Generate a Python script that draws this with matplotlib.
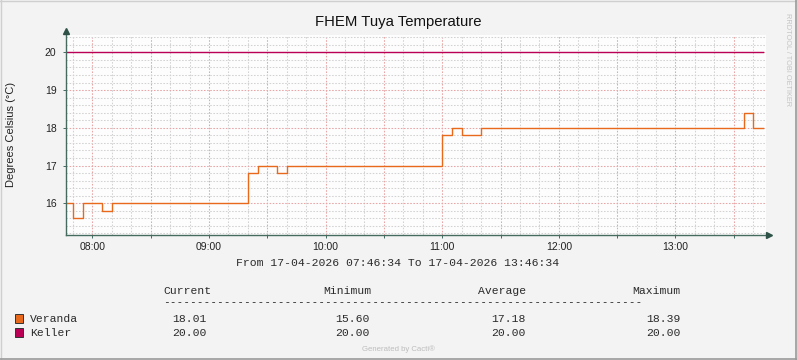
import datetime as dt
import matplotlib
matplotlib.use("Agg")
import matplotlib.pyplot as plt
import matplotlib.dates as mdates
from matplotlib.ticker import FuncFormatter, MultipleLocator
from matplotlib.patches import Rectangle

# ---- data ----
day = "2026-04-17"
start, end = "07:46:34", "13:46:34"

veranda_times = ["07:45", "07:50", "07:55", "08:05", "08:10", "09:20", "09:25", "09:35",
                 "09:40", "11:00", "11:05", "11:10", "11:20", "13:35", "13:40", "13:45"]
veranda_temps = [16.0, 15.6, 16.0, 15.8, 16.0, 16.8, 17.0, 16.8,
                 17.0, 17.8, 18.0, 17.8, 18.0, 18.4, 18.0, 18.0]
keller_times = ["07:45", "13:45"]
keller_temps = [20.0, 20.0]

series_names = ["Veranda", "Keller"]
series_colors = ["#E8691C", "#B90054"]
stat_headers = ["Current", "Minimum", "Average", "Maximum"]
veranda_stats = ["18.01", "15.60", "17.18", "18.39"]
keller_stats = ["20.00", "20.00", "20.00", "20.00"]

W, H = 797, 360
bg = "#F3F3F3"
axis_col = "#456A60"


def t(s):
    return dt.datetime.strptime(day + " " + (s if s.count(":") == 2 else s + ":00"), "%Y-%m-%d %H:%M:%S")


def fx(x):
    return x / W


def fy(y):
    return 1 - y / H


fig = plt.figure(figsize=(W / 100, H / 100), dpi=100, facecolor=bg)
L, R, T, B = 66.2, 766, 35, 235
ax = fig.add_axes([fx(L), fy(B), (R - L) / W, (B - T) / H])
ax.set_facecolor("#FDFDFD")

xs_v = [t(s) for s in veranda_times]
xs_k = [t(s) for s in keller_times]
ax.plot(xs_v, veranda_temps, drawstyle="steps-post", color=series_colors[0], lw=1.0, zorder=5)
ax.plot(xs_k, keller_temps, drawstyle="steps-post", color=series_colors[1], lw=1.0, zorder=5)

ax.set_xlim(t(start), t(end))
ax.set_ylim(15.16, 20.46)

# grid
ax.xaxis.set_major_locator(mdates.MinuteLocator(byminute=[0, 30]))
ax.xaxis.set_minor_locator(mdates.MinuteLocator(byminute=range(0, 60, 10)))
ax.xaxis.set_major_formatter(FuncFormatter(
    lambda v, p: "" if mdates.num2date(v).minute else mdates.num2date(v).strftime("%H:%M")))
ax.yaxis.set_major_locator(MultipleLocator(1))
ax.yaxis.set_minor_locator(MultipleLocator(0.2))
ax.grid(which="minor", color="#D2D2D2", lw=0.75, ls=(0, (1.5, 1.5)))
ax.grid(which="major", color="#E9A5A5", lw=0.75, ls=(0, (1.5, 1.5)))
ax.set_axisbelow(True)

ax.tick_params(which="major", length=2, width=0.7, color=axis_col, labelsize=7.5,
               labelcolor="#222222", pad=3)
ax.tick_params(which="minor", length=0)
ax.tick_params(axis="y", pad=5)
for lab in ax.get_xticklabels() + ax.get_yticklabels():
    lab.set_fontfamily("Liberation Sans")
for s in ax.spines.values():
    s.set_visible(False)

# axis lines with arrows
ax.plot([0, 0], [0, 1.02], transform=ax.transAxes, color=axis_col, lw=1, clip_on=False, zorder=6)
ax.plot([0, 1.005], [0, 0], transform=ax.transAxes, color=axis_col, lw=1, clip_on=False, zorder=6)
ax.plot([0], [1.02], marker="^", ms=4, color="#2E5248", transform=ax.transAxes, clip_on=False, zorder=7)
ax.plot([1.005], [0], marker=">", ms=4, color="#2E5248", transform=ax.transAxes, clip_on=False, zorder=7)

# texts
fig.text(fx(398), fy(22), "FHEM Tuya Temperature", ha="center", va="center",
         fontsize=10.7, family="Liberation Sans", color="#111111")
fig.text(fx(11), fy(134.5), "Degrees Celsius (°C)", rotation=90, ha="center", va="center",
         fontsize=8, family="Liberation Sans", color="#222222")
fig.text(fx(787.5), fy(60), "RRDTOOL / TOBI OETIKER", rotation=270, ha="center", va="center",
         fontsize=5.3, family="Liberation Sans", color="#C4C4C4")
mono = dict(family="Liberation Mono", fontsize=8.2, color="#2A2A2A", va="center")
fig.text(fx(398), fy(263), "From 17-04-2026 07:46:34 To 17-04-2026 13:46:34", ha="center", **mono)

head_x = [163, 323, 478, 632]
for x, h in zip(head_x, stat_headers):
    fig.text(fx(x), fy(290.5), h, ha="left", **mono)
fig.text(fx(163), fy(302.5), "-" * 71, ha="left", family="DejaVu Sans Mono", fontsize=8.15,
         color="#2A2A2A", va="center")

val_x = [172.5, 335, 491.5, 646.5]
for row_y, name, col, stats in zip([318.5, 332.5], series_names, series_colors,
                                   [veranda_stats, keller_stats]):
    fig.patches.append(Rectangle((fx(15), fy(row_y + 4.5)), 8 / W, 9 / H, transform=fig.transFigure,
                                 facecolor=col, edgecolor="#333333", lw=0.7))
    fig.text(fx(30), fy(row_y), name, ha="left", **mono)
    for x, v in zip(val_x, stats):
        fig.text(fx(x), fy(row_y), v, ha="left", **mono)

fig.text(fx(398), fy(349.5), "Generated by Cacti®", ha="center", va="center",
         fontsize=5.6, family="Liberation Sans", color="#BDBDBD")

# image frame
fig.add_artist(plt.Line2D([0, 1], [1 - 0.5 / H, 1 - 0.5 / H], transform=fig.transFigure, color="#CFCFCF", lw=1))
fig.add_artist(plt.Line2D([0.5 / W, 0.5 / W], [0, 1], transform=fig.transFigure, color="#CFCFCF", lw=1))
fig.add_artist(plt.Line2D([0, 1], [0.6 / H, 0.6 / H], transform=fig.transFigure, color="#9A9A9A", lw=1.2))
fig.add_artist(plt.Line2D([1 - 0.6 / W, 1 - 0.6 / W], [0, 1], transform=fig.transFigure, color="#9A9A9A", lw=1.2))

fig.savefig("out.png", dpi=100, facecolor=bg)
